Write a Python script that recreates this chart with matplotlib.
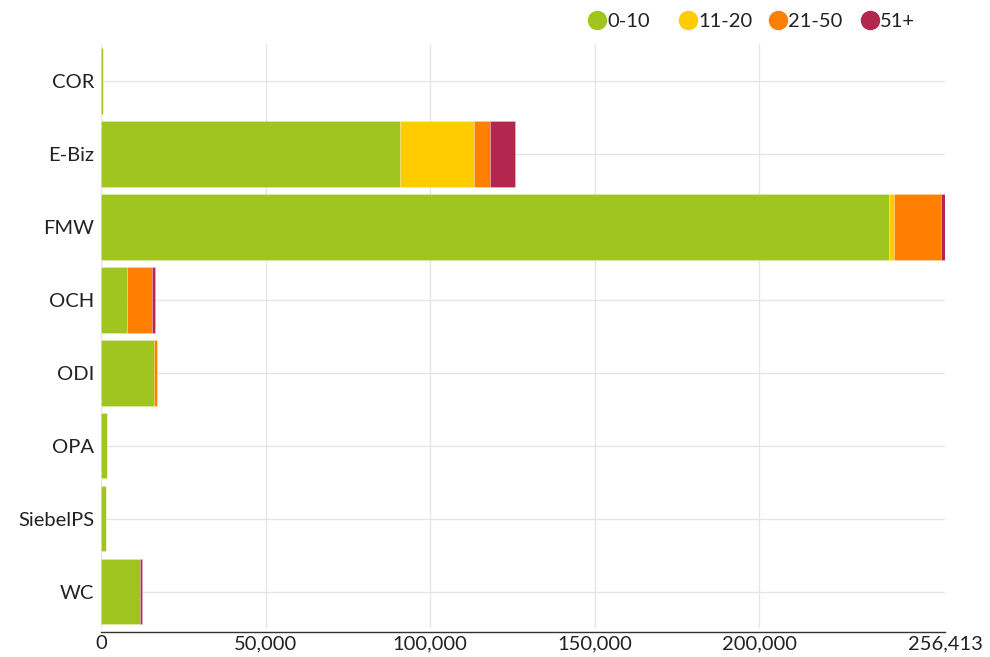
import matplotlib
matplotlib.use("Agg")
import matplotlib.pyplot as plt
from matplotlib.lines import Line2D
import numpy as np

categories = ["COR", "E-Biz", "FMW", "OCH", "ODI", "OPA", "SiebelPS", "WC"]
series_names = ["0-10", "11-20", "21-50", "51+"]
s_0_10 = [550, 90800, 239430, 7800, 16180, 1820, 1520, 11750]
s_11_20 = [0, 22450, 1400, 0, 0, 0, 0, 0]
s_21_50 = [0, 4850, 14280, 7680, 820, 0, 0, 0]
s_51p = [0, 7600, 1303, 820, 0, 0, 0, 790]
colors = ["#a0c51f", "#ffcc00", "#ff8000", "#b3264e"]
xmax = 256413
xticks = [0, 50000, 100000, 150000, 200000, 256413]

plt.rcParams['font.family'] = ['Lato', 'DejaVu Sans']

fig = plt.figure(figsize=(9.9, 6.57), dpi=100)
ax = fig.add_axes([101/990, 1-628/657, (945-101)/990, (628-44.5)/657])

y = np.arange(len(categories))
left = np.zeros(len(categories))
for name, vals, c in zip(series_names, [s_0_10, s_11_20, s_21_50, s_51p], colors):
    vals = np.array(vals, dtype=float)
    ax.barh(y, vals, left=left, height=0.9, color=c, edgecolor=(1, 1, 1, 0.35),
            linewidth=0.4, zorder=3, label=name)
    left += vals

ax.set_ylim(len(categories) - 0.5, -0.5)
ax.set_xlim(0, xmax)
ax.set_yticks(y)
ax.set_yticklabels(categories)
ax.set_xticks(xticks)
ax.set_xticklabels([f"{v:,}" for v in xticks])

for v in xticks[:-1]:
    ax.axvline(v, color="#e6e6e6", lw=1, zorder=1)
for yy in y:
    ax.axhline(yy, color="#e6e6e6", lw=1, zorder=1)

for s in ["top", "right", "left"]:
    ax.spines[s].set_visible(False)
ax.spines["bottom"].set_color("#333333")
ax.spines["bottom"].set_linewidth(1)
ax.spines["bottom"].set_position(("outward", 3))
ax.tick_params(axis="y", length=0, pad=5, labelsize=14.5, colors="#222222")
ax.tick_params(axis="x", length=0, pad=2, labelsize=14.5, colors="#222222")

# legend (manually placed entries)
leg_x = [597, 688, 778, 870]
leg_y = 20
for lx, name, c in zip(leg_x, series_names, colors):
    fig.add_artist(Line2D([lx / 990], [1 - leg_y / 657], transform=fig.transFigure,
                          marker="o", linestyle="none", markersize=13,
                          markerfacecolor=c, markeredgecolor=c))
    fig.text((lx + 10) / 990, 1 - leg_y / 657, name, ha="left", va="center_baseline",
             fontsize=14.5, color="#222222")

fig.savefig("out.png", dpi=100)
